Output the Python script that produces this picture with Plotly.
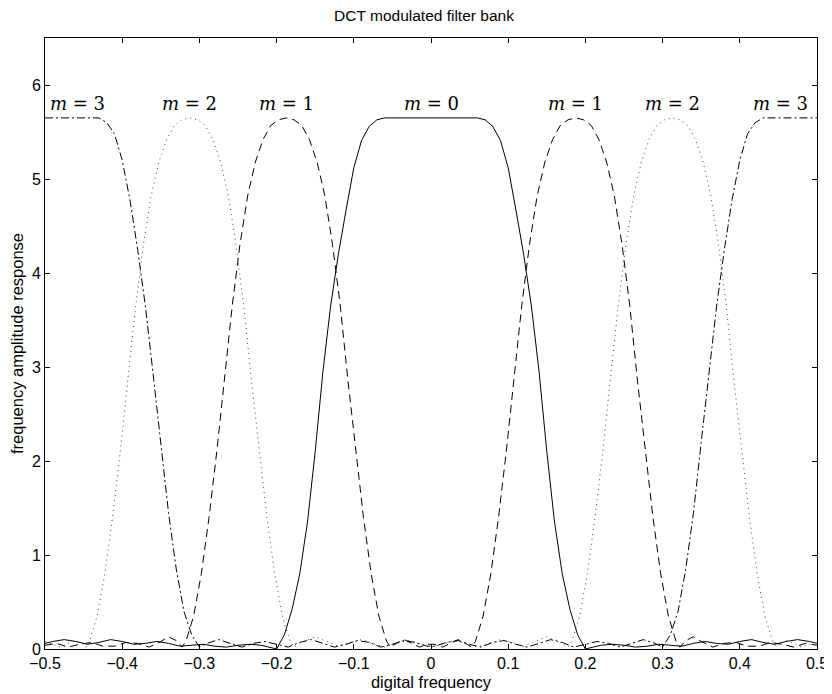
import plotly.graph_objects as go

# ---- data ----
# m = 0 (solid)
m0_x = [-0.5, -0.49, -0.475, -0.46, -0.445, -0.43, -0.415, -0.40, -0.385, -0.37, -0.355, -0.34,
        -0.325, -0.31, -0.295, -0.28, -0.265, -0.25, -0.235, -0.22, -0.21,
        -0.2, -0.19, -0.18, -0.17, -0.16, -0.15, -0.14, -0.13, -0.12, -0.11, -0.10, -0.09, -0.08,
        -0.07, -0.06, 0.0,
        0.06, 0.07, 0.08, 0.09, 0.10, 0.11, 0.12, 0.13, 0.14, 0.15, 0.16, 0.17, 0.18, 0.19, 0.2,
        0.21, 0.22, 0.235, 0.25, 0.265, 0.28, 0.295, 0.31, 0.325, 0.34, 0.355, 0.37, 0.385, 0.40,
        0.415, 0.43, 0.445, 0.46, 0.475, 0.49, 0.5]
m0_y = [0.06, 0.08, 0.10, 0.08, 0.05, 0.07, 0.10, 0.08, 0.05, 0.06, 0.08, 0.06,
        0.03, 0.04, 0.05, 0.03, 0.02, 0.04, 0.05, 0.04, 0.02,
        0.0, 0.15, 0.42, 0.8, 1.35, 2.1, 2.95, 3.65, 4.2, 4.67, 5.12, 5.41, 5.56,
        5.63, 5.65, 5.65,
        5.65, 5.63, 5.56, 5.41, 5.12, 4.67, 4.2, 3.65, 2.95, 2.1, 1.35, 0.8, 0.42, 0.15, 0.0,
        0.02, 0.04, 0.05, 0.04, 0.02, 0.03, 0.05, 0.04, 0.03, 0.06, 0.08, 0.06, 0.05, 0.08,
        0.10, 0.07, 0.05, 0.08, 0.10, 0.08, 0.06]

# m = 1 (dashed)
m1_x = [-0.5, -0.485, -0.47, -0.455, -0.44, -0.425, -0.41, -0.395, -0.38, -0.365, -0.35, -0.34,
        -0.33, -0.3225,
        -0.3175, -0.3075, -0.2975, -0.2875, -0.2775, -0.2675, -0.2575, -0.2475, -0.2375, -0.2275,
        -0.2175, -0.2075, -0.1975, -0.1875, -0.1775, -0.1675, -0.1575, -0.1475, -0.1375, -0.1275,
        -0.1175, -0.1075, -0.0975, -0.0875, -0.0775, -0.0675, -0.0575, -0.0525,
        -0.045, -0.035, -0.025, -0.015, -0.005, 0.005, 0.015, 0.025, 0.035, 0.045,
        0.0525, 0.0575, 0.0675, 0.0775, 0.0875, 0.0975, 0.1075, 0.1175, 0.1275, 0.1375, 0.1475,
        0.1575, 0.1675, 0.1775, 0.1875, 0.1975, 0.2075, 0.2175, 0.2275, 0.2375, 0.2475, 0.2575,
        0.2675, 0.2775, 0.2875, 0.2975, 0.3075, 0.3175,
        0.3225, 0.33, 0.34, 0.35, 0.365, 0.38, 0.395, 0.41, 0.425, 0.44, 0.455, 0.47, 0.485, 0.5]
m1_y = [0.04, 0.06, 0.02, 0.05, 0.07, 0.03, 0.03, 0.07, 0.06, 0.02, 0.08, 0.13,
        0.09, 0.02,
        0.08, 0.35, 0.8, 1.4, 2.1, 2.85, 3.65, 4.3, 4.82, 5.18,
        5.42, 5.57, 5.63, 5.65, 5.63, 5.57, 5.42, 5.18, 4.82, 4.3,
        3.65, 2.85, 2.1, 1.4, 0.8, 0.35, 0.08, 0.02,
        0.06, 0.10, 0.06, 0.02, 0.05, 0.05, 0.02, 0.06, 0.10, 0.06,
        0.02, 0.08, 0.35, 0.8, 1.4, 2.1, 2.85, 3.65, 4.3, 4.82, 5.18,
        5.42, 5.57, 5.63, 5.65, 5.63, 5.57, 5.42, 5.18, 4.82, 4.3, 3.65,
        2.85, 2.1, 1.4, 0.8, 0.35, 0.08,
        0.02, 0.09, 0.13, 0.08, 0.02, 0.06, 0.07, 0.03, 0.03, 0.07, 0.05, 0.02, 0.06, 0.04]

# m = 2 (dotted)
m2_x = [-0.5, -0.49, -0.48, -0.47, -0.46, -0.45, -0.4475,
        -0.4425, -0.4325, -0.4225, -0.4125, -0.4025, -0.3925, -0.3825, -0.3725, -0.3625, -0.3525,
        -0.3425, -0.3325, -0.3225, -0.3125, -0.3025, -0.2925, -0.2825, -0.2725, -0.2625, -0.2525,
        -0.2425, -0.2325, -0.2225, -0.2125, -0.2025, -0.1925, -0.1825, -0.1775,
        -0.165, -0.15, -0.135, -0.12, -0.105, -0.09, -0.075, -0.06, -0.045, -0.03, -0.015, 0.0,
        0.015, 0.03, 0.045, 0.06, 0.075, 0.09, 0.105, 0.12, 0.135, 0.15, 0.165,
        0.1775, 0.1825, 0.1925, 0.2025, 0.2125, 0.2225, 0.2325, 0.2425, 0.2525, 0.2625, 0.2725,
        0.2825, 0.2925, 0.3025, 0.3125, 0.3225, 0.3325, 0.3425, 0.3525, 0.3625, 0.3725, 0.3825,
        0.3925, 0.4025, 0.4125, 0.4225, 0.4325, 0.4425,
        0.4475, 0.45, 0.46, 0.47, 0.48, 0.49, 0.5]
m2_y = [0.08, 0.05, 0.02, 0.06, 0.09, 0.05, 0.02,
        0.08, 0.35, 0.8, 1.4, 2.1, 2.85, 3.65, 4.3, 4.82, 5.18,
        5.42, 5.57, 5.63, 5.65, 5.63, 5.57, 5.42, 5.18, 4.82, 4.3,
        3.65, 2.85, 2.1, 1.4, 0.8, 0.35, 0.08, 0.02,
        0.08, 0.13, 0.08, 0.03, 0.07, 0.10, 0.06, 0.02, 0.06, 0.09, 0.05, 0.02,
        0.05, 0.09, 0.06, 0.02, 0.06, 0.10, 0.07, 0.03, 0.08, 0.13, 0.08,
        0.02, 0.08, 0.35, 0.8, 1.4, 2.1, 2.85, 3.65, 4.3, 4.82, 5.18,
        5.42, 5.57, 5.63, 5.65, 5.63, 5.57, 5.42, 5.18, 4.82, 4.3, 3.65,
        2.85, 2.1, 1.4, 0.8, 0.35, 0.08,
        0.02, 0.05, 0.09, 0.06, 0.02, 0.05, 0.08]

# m = 3 (dash-dot)
m3_x = [-0.5, -0.43, -0.42, -0.41, -0.40, -0.39, -0.38, -0.37, -0.36, -0.35, -0.34, -0.33, -0.32,
        -0.31, -0.30,
        -0.29, -0.275, -0.26, -0.245, -0.23, -0.215, -0.2, -0.185, -0.17, -0.155, -0.14, -0.125,
        -0.11, -0.095, -0.08, -0.065, -0.05, -0.035, -0.02, -0.005,
        0.005, 0.02, 0.035, 0.05, 0.065, 0.08, 0.095, 0.11, 0.125, 0.14, 0.155, 0.17, 0.185, 0.2,
        0.215, 0.23, 0.245, 0.26, 0.275, 0.29,
        0.30, 0.31, 0.32, 0.33, 0.34, 0.35, 0.36, 0.37, 0.38, 0.39, 0.40, 0.41, 0.42, 0.43, 0.5]
m3_y = [5.65, 5.65, 5.6, 5.48, 5.2, 4.78, 4.25, 3.65, 2.93, 2.2, 1.45, 0.85, 0.4,
        0.15, 0.02,
        0.06, 0.10, 0.06, 0.02, 0.06, 0.08, 0.05, 0.02, 0.07, 0.10, 0.06, 0.02,
        0.05, 0.09, 0.07, 0.02, 0.05, 0.09, 0.07, 0.03,
        0.03, 0.07, 0.09, 0.05, 0.02, 0.07, 0.09, 0.05, 0.02, 0.06, 0.10, 0.07, 0.02, 0.05,
        0.08, 0.06, 0.02, 0.06, 0.10, 0.06,
        0.02, 0.15, 0.4, 0.85, 1.45, 2.2, 2.93, 3.65, 4.25, 4.78, 5.2, 5.48, 5.6, 5.65, 5.65]

# labels
label_x = [-0.458, -0.3125, -0.1875, 0.0, 0.1875, 0.3125, 0.453]
label_text = ["3", "2", "1", "0", "1", "2", "3"]
label_y = 5.8

x_tickvals = [-0.5, -0.4, -0.3, -0.2, -0.1, 0, 0.1, 0.2, 0.3, 0.4, 0.5]
x_ticktext = ["\u22120.5", "\u22120.4", "\u22120.3", "\u22120.2", "\u22120.1", "0",
              "0.1", "0.2", "0.3", "0.4", "0.5"]
y_tickvals = [0, 1, 2, 3, 4, 5, 6]

fig = go.Figure()
line_common = dict(color="black", width=1)
fig.add_trace(go.Scatter(x=m0_x, y=m0_y, mode="lines", line=dict(**line_common, dash="solid")))
fig.add_trace(go.Scatter(x=m1_x, y=m1_y, mode="lines", line=dict(**line_common, dash="8px,5px")))
fig.add_trace(go.Scatter(x=m2_x, y=m2_y, mode="lines", line=dict(color="#444", width=1, dash="1px,4px")))
fig.add_trace(go.Scatter(x=m3_x, y=m3_y, mode="lines", line=dict(**line_common, dash="8px,3px,2px,3px")))

for lx, lt in zip(label_x, label_text):
    fig.add_annotation(x=lx, y=label_y, text="<i>m</i> = " + lt, showarrow=False,
                       font=dict(family="DejaVu Serif", size=18, color="black"),
                       xanchor="center", yanchor="middle")

axis_common = dict(showline=True, mirror="ticks", linecolor="black", linewidth=1,
                   ticks="inside", ticklen=5, tickcolor="black", showgrid=False, zeroline=False,
                   automargin=False,
                   tickfont=dict(family="Liberation Sans", size=16, color="black"))

fig.update_layout(
    width=832, height=694,
    paper_bgcolor="white", plot_bgcolor="white",
    margin=dict(l=37, r=23, t=30, b=53),
    showlegend=False,
    title=dict(text="DCT modulated filter bank", x=0.5, xanchor="center",
               xref="container", yref="container", y=0.9885, yanchor="middle",
               font=dict(family="Liberation Sans", size=15.5, color="black")),
    xaxis=dict(range=[-0.5, 0.5], tickvals=x_tickvals, ticktext=x_ticktext,
               title=dict(text="digital frequency", standoff=5,
                          font=dict(family="Liberation Sans", size=16.5, color="black")),
               **axis_common),
    yaxis=dict(range=[0, 6.5], tickvals=y_tickvals,
               title=dict(text="frequency amplitude response", standoff=4,
                          font=dict(family="Liberation Sans", size=16.5, color="black")),
               **axis_common),
)

fig.write_html("out.html")
